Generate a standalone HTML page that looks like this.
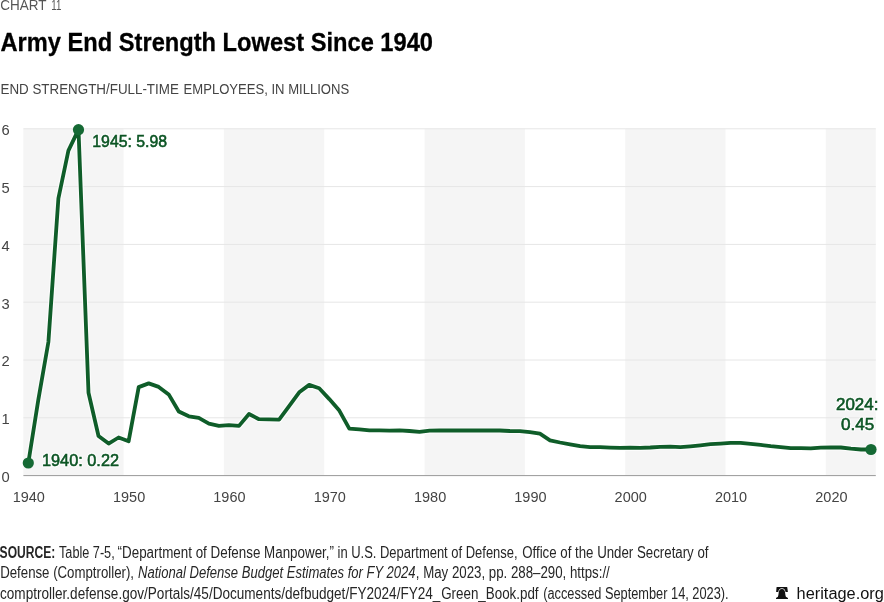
<!DOCTYPE html>
<html lang="en"><head><meta charset="utf-8"><title>Army End Strength Lowest Since 1940</title>
<style>
html,body{margin:0;padding:0;background:#fff;}
body{width:884px;height:602px;overflow:hidden;font-family:"Liberation Sans",sans-serif;}
svg{display:block}
text{font-family:"Liberation Sans",sans-serif;}
.ax{font-size:15.5px;fill:#444;}
.lab{font-size:17.4px;font-weight:400;}
.src{font-size:16px;fill:#262626;}
</style></head><body>
<svg width="884" height="602" viewBox="0 0 884 602">
<rect width="884" height="602" fill="#fff"/>
<text x="0.3" y="9.7" font-size="14.5" fill="#555" textLength="46.2" lengthAdjust="spacingAndGlyphs">CHART</text>
<text x="51.2" y="9.7" font-size="14.5" fill="#555" textLength="10.1" lengthAdjust="spacingAndGlyphs">11</text>
<text x="0.5" y="50.5" font-size="25.5" font-weight="700" fill="#000" stroke="#000" stroke-width="0.3" textLength="432.5" lengthAdjust="spacingAndGlyphs">Army End Strength Lowest Since 1940</text>
<text x="0.5" y="94.2" font-size="15.4" fill="#444" textLength="178.3" lengthAdjust="spacingAndGlyphs">END STRENGTH/FULL-TIME</text>
<text x="183.6" y="94.2" font-size="15.4" fill="#444" textLength="165.6" lengthAdjust="spacingAndGlyphs">EMPLOYEES, IN MILLIONS</text>

<rect x="23.3" y="128.7" width="100.3" height="346.9" fill="#f5f5f5"/>
<rect x="223.9" y="128.7" width="100.3" height="346.9" fill="#f5f5f5"/>
<rect x="424.6" y="128.7" width="100.3" height="346.9" fill="#f5f5f5"/>
<rect x="625.2" y="128.7" width="100.3" height="346.9" fill="#f5f5f5"/>
<rect x="825.8" y="128.7" width="50.0" height="346.9" fill="#f5f5f5"/>
<line x1="23.4" x2="875.8" y1="417.8" y2="417.8" stroke="#e6e6e6" stroke-width="1"/>
<line x1="23.4" x2="875.8" y1="360.0" y2="360.0" stroke="#e6e6e6" stroke-width="1"/>
<line x1="23.4" x2="875.8" y1="302.2" y2="302.2" stroke="#e6e6e6" stroke-width="1"/>
<line x1="23.4" x2="875.8" y1="244.4" y2="244.4" stroke="#e6e6e6" stroke-width="1"/>
<line x1="23.4" x2="875.8" y1="186.6" y2="186.6" stroke="#e6e6e6" stroke-width="1"/>
<line x1="23.4" x2="875.8" y1="128.8" y2="128.8" stroke="#e6e6e6" stroke-width="1"/>
<line x1="23.4" x2="875.8" y1="475.6" y2="475.6" stroke="#999" stroke-width="1"/>
<text class="ax" x="1.5" y="482.0" textLength="8.2" lengthAdjust="spacingAndGlyphs">0</text>
<text class="ax" x="1.5" y="424.2" textLength="8.2" lengthAdjust="spacingAndGlyphs">1</text>
<text class="ax" x="1.5" y="366.4" textLength="8.2" lengthAdjust="spacingAndGlyphs">2</text>
<text class="ax" x="1.5" y="308.6" textLength="8.2" lengthAdjust="spacingAndGlyphs">3</text>
<text class="ax" x="1.5" y="250.8" textLength="8.2" lengthAdjust="spacingAndGlyphs">4</text>
<text class="ax" x="1.5" y="193.0" textLength="8.2" lengthAdjust="spacingAndGlyphs">5</text>
<text class="ax" x="1.5" y="135.2" textLength="8.2" lengthAdjust="spacingAndGlyphs">6</text>
<text class="ax" x="28.8" y="502" text-anchor="middle" textLength="32.2" lengthAdjust="spacingAndGlyphs">1940</text>
<text class="ax" x="129.1" y="502" text-anchor="middle" textLength="32.2" lengthAdjust="spacingAndGlyphs">1950</text>
<text class="ax" x="229.4" y="502" text-anchor="middle" textLength="32.2" lengthAdjust="spacingAndGlyphs">1960</text>
<text class="ax" x="329.8" y="502" text-anchor="middle" textLength="32.2" lengthAdjust="spacingAndGlyphs">1970</text>
<text class="ax" x="430.1" y="502" text-anchor="middle" textLength="32.2" lengthAdjust="spacingAndGlyphs">1980</text>
<text class="ax" x="530.4" y="502" text-anchor="middle" textLength="32.2" lengthAdjust="spacingAndGlyphs">1990</text>
<text class="ax" x="630.7" y="502" text-anchor="middle" textLength="32.2" lengthAdjust="spacingAndGlyphs">2000</text>
<text class="ax" x="731.0" y="502" text-anchor="middle" textLength="32.2" lengthAdjust="spacingAndGlyphs">2010</text>
<text class="ax" x="831.4" y="502" text-anchor="middle" textLength="32.2" lengthAdjust="spacingAndGlyphs">2020</text>
<polyline points="28.3,463.0 38.3,399.9 48.4,342.0 58.4,198.3 68.4,150.6 78.5,129.7 88.5,392.7 98.5,436.0 108.6,443.6 118.6,437.5 128.6,441.3 138.7,387.1 148.7,383.4 158.7,386.9 168.7,394.4 178.8,411.5 188.8,416.3 198.8,417.9 208.9,423.6 218.9,425.8 228.9,425.1 239.0,425.9 249.0,414.0 259.0,419.2 269.1,419.4 279.1,419.6 289.1,406.2 299.2,392.3 309.2,384.9 319.2,388.2 329.3,399.1 339.3,410.6 349.3,428.7 359.4,429.3 369.4,430.3 379.4,430.3 389.5,430.6 399.5,430.4 409.5,431.0 419.5,431.8 429.6,430.7 439.6,430.5 449.6,430.5 459.7,430.5 469.7,430.5 479.7,430.5 489.8,430.5 499.8,430.5 509.8,431.0 519.9,431.1 529.9,432.2 539.9,433.7 550.0,440.3 560.0,442.5 570.0,444.3 580.1,446.2 590.1,447.2 600.1,447.2 610.2,447.6 620.2,447.9 630.2,447.7 640.3,447.8 650.3,447.5 660.3,446.8 670.3,446.7 680.4,447.2 690.4,446.4 700.4,445.4 710.5,444.2 720.5,443.6 730.5,442.9 740.6,442.9 750.6,443.8 760.6,444.9 770.7,446.2 780.7,447.2 790.7,448.1 800.8,448.1 810.8,448.3 820.8,447.6 830.9,447.5 840.9,447.5 850.9,448.7 861.0,449.5 871.0,449.5" fill="none" stroke="#fff" stroke-opacity="0.7" stroke-width="6.2" stroke-linejoin="round" stroke-linecap="round"/>
<polyline points="28.3,463.0 38.3,399.9 48.4,342.0 58.4,198.3 68.4,150.6 78.5,129.7 88.5,392.7 98.5,436.0 108.6,443.6 118.6,437.5 128.6,441.3 138.7,387.1 148.7,383.4 158.7,386.9 168.7,394.4 178.8,411.5 188.8,416.3 198.8,417.9 208.9,423.6 218.9,425.8 228.9,425.1 239.0,425.9 249.0,414.0 259.0,419.2 269.1,419.4 279.1,419.6 289.1,406.2 299.2,392.3 309.2,384.9 319.2,388.2 329.3,399.1 339.3,410.6 349.3,428.7 359.4,429.3 369.4,430.3 379.4,430.3 389.5,430.6 399.5,430.4 409.5,431.0 419.5,431.8 429.6,430.7 439.6,430.5 449.6,430.5 459.7,430.5 469.7,430.5 479.7,430.5 489.8,430.5 499.8,430.5 509.8,431.0 519.9,431.1 529.9,432.2 539.9,433.7 550.0,440.3 560.0,442.5 570.0,444.3 580.1,446.2 590.1,447.2 600.1,447.2 610.2,447.6 620.2,447.9 630.2,447.7 640.3,447.8 650.3,447.5 660.3,446.8 670.3,446.7 680.4,447.2 690.4,446.4 700.4,445.4 710.5,444.2 720.5,443.6 730.5,442.9 740.6,442.9 750.6,443.8 760.6,444.9 770.7,446.2 780.7,447.2 790.7,448.1 800.8,448.1 810.8,448.3 820.8,447.6 830.9,447.5 840.9,447.5 850.9,448.7 861.0,449.5 871.0,449.5" fill="none" stroke="#0f5d29" stroke-width="3.8" stroke-linejoin="round" stroke-linecap="round"/>
<circle cx="28.3" cy="463.0" r="5.6" fill="#156934"/>
<circle cx="78.5" cy="129.7" r="5.6" fill="#156934"/>
<circle cx="871.0" cy="449.5" r="5.6" fill="#156934"/>
<text class="lab" x="92.3" y="147.2" textLength="74.8" lengthAdjust="spacingAndGlyphs" fill="#fff" stroke="#fff" stroke-opacity="0.75" stroke-width="3" stroke-linejoin="round">1945: 5.98</text>
<text class="lab" x="92.3" y="147.2" textLength="74.8" lengthAdjust="spacingAndGlyphs" fill="#0c5524" stroke="#0c5524" stroke-width="0.6">1945: 5.98</text>
<text class="lab" x="42.0" y="466.0" textLength="77.0" lengthAdjust="spacingAndGlyphs" fill="#fff" stroke="#fff" stroke-opacity="0.75" stroke-width="3" stroke-linejoin="round">1940: 0.22</text>
<text class="lab" x="42.0" y="466.0" textLength="77.0" lengthAdjust="spacingAndGlyphs" fill="#0c5524" stroke="#0c5524" stroke-width="0.6">1940: 0.22</text>
<text class="lab" x="836.0" y="409.6" textLength="42.4" lengthAdjust="spacingAndGlyphs" fill="#fff" stroke="#fff" stroke-opacity="0.75" stroke-width="3" stroke-linejoin="round">2024:</text>
<text class="lab" x="836.0" y="409.6" textLength="42.4" lengthAdjust="spacingAndGlyphs" fill="#0c5524" stroke="#0c5524" stroke-width="0.6">2024:</text>
<text class="lab" x="841.0" y="430.4" textLength="33.2" lengthAdjust="spacingAndGlyphs" fill="#fff" stroke="#fff" stroke-opacity="0.75" stroke-width="3" stroke-linejoin="round">0.45</text>
<text class="lab" x="841.0" y="430.4" textLength="33.2" lengthAdjust="spacingAndGlyphs" fill="#0c5524" stroke="#0c5524" stroke-width="0.6">0.45</text>
<text class="src" x="-0.4" y="557.6" font-weight="700" textLength="55.6" lengthAdjust="spacingAndGlyphs">SOURCE:</text>
<text class="src" x="59" y="557.6"  textLength="55.7" lengthAdjust="spacingAndGlyphs">Table 7-5,</text>
<text class="src" x="117.6" y="557.6"  textLength="216.4" lengthAdjust="spacingAndGlyphs">“Department of Defense Manpower,”</text>
<text class="src" x="337.5" y="557.6"  textLength="180.1" lengthAdjust="spacingAndGlyphs">in U.S. Department of Defense,</text>
<text class="src" x="522.2" y="557.6"  textLength="186.3" lengthAdjust="spacingAndGlyphs">Office of the Under Secretary of</text>
<text class="src" x="0.2" y="578.4"  textLength="133.8" lengthAdjust="spacingAndGlyphs">Defense (Comptroller),</text>
<text class="src" x="138" y="578.4" font-style="italic" textLength="277.6" lengthAdjust="spacingAndGlyphs">National Defense Budget Estimates for FY 2024</text>
<text class="src" x="415.8" y="578.4"  textLength="194.0" lengthAdjust="spacingAndGlyphs">, May 2023, pp. 288–290, https://</text>
<text class="src" x="0" y="599.1"  textLength="440.4" lengthAdjust="spacingAndGlyphs">comptroller.defense.gov/Portals/45/Documents/defbudget/FY2024/FY24_</text>
<text class="src" x="441.2" y="599.1"  textLength="97.4" lengthAdjust="spacingAndGlyphs">Green_Book.pdf</text>
<text class="src" x="543.2" y="599.1"  textLength="185.4" lengthAdjust="spacingAndGlyphs">(accessed September 14, 2023).</text>
<g transform="translate(776,587)">
<path d="M0.6,0 H11.2 L11.9,5 H0.1 Z" fill="#111"/>
<path d="M5.9,1.9 C3.7,1.9 3.0,3.5 2.7,5.5 C2.4,8 2.2,9.4 1.6,10.2 L0.1,11.1 V11.9 H11.8 V11.1 L10.2,10.2 C9.6,9.4 9.4,8 9.1,5.5 C8.8,3.5 8.1,1.9 5.9,1.9 Z" fill="#111" stroke="#fff" stroke-width="1.1" paint-order="stroke"/>
<path d="M1.7,10.2 L0.1,11.1 V11.9 H11.8 V11.1 L10.1,10.2 Z" fill="#111"/>
</g>
<text x="796.6" y="598.6" font-size="16" fill="#111" textLength="87.2" lengthAdjust="spacingAndGlyphs">heritage.org</text>
</svg></body></html>
